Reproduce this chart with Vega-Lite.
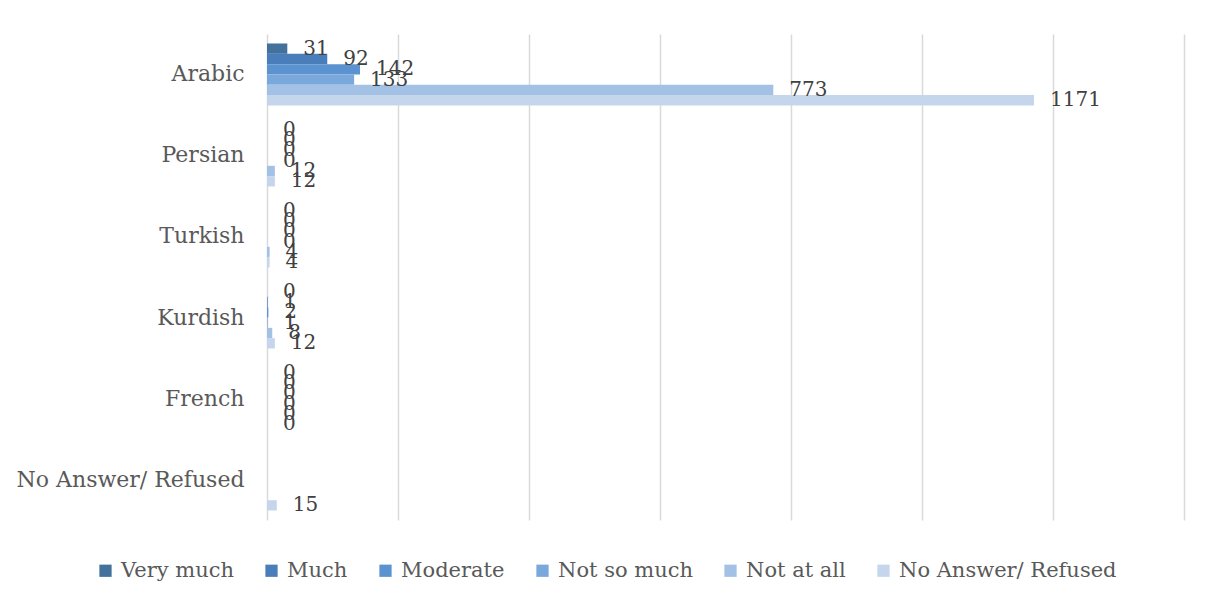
{
  "$schema": "https://vega.github.io/schema/vega-lite/v6.json",
  "width": 917,
  "height": 486,
  "autosize": {"type": "none"},
  "padding": {"left": 267, "top": 34, "right": 28, "bottom": 88},
  "background": "white",
  "config": {"view": {"stroke": null}, "font": "DejaVu Serif"},
  "data": {
    "values": [
      {"lang": "Arabic", "resp": "Very much", "value": 31},
      {"lang": "Arabic", "resp": "Much", "value": 92},
      {"lang": "Arabic", "resp": "Moderate", "value": 142},
      {"lang": "Arabic", "resp": "Not so much", "value": 133},
      {"lang": "Arabic", "resp": "Not at all", "value": 773},
      {"lang": "Arabic", "resp": "No Answer/ Refused", "value": 1171},
      {"lang": "Persian", "resp": "Very much", "value": 0},
      {"lang": "Persian", "resp": "Much", "value": 0},
      {"lang": "Persian", "resp": "Moderate", "value": 0},
      {"lang": "Persian", "resp": "Not so much", "value": 0},
      {"lang": "Persian", "resp": "Not at all", "value": 12},
      {"lang": "Persian", "resp": "No Answer/ Refused", "value": 12},
      {"lang": "Turkish", "resp": "Very much", "value": 0},
      {"lang": "Turkish", "resp": "Much", "value": 0},
      {"lang": "Turkish", "resp": "Moderate", "value": 0},
      {"lang": "Turkish", "resp": "Not so much", "value": 0},
      {"lang": "Turkish", "resp": "Not at all", "value": 4},
      {"lang": "Turkish", "resp": "No Answer/ Refused", "value": 4},
      {"lang": "Kurdish", "resp": "Very much", "value": 0},
      {"lang": "Kurdish", "resp": "Much", "value": 1},
      {"lang": "Kurdish", "resp": "Moderate", "value": 2},
      {"lang": "Kurdish", "resp": "Not so much", "value": 1},
      {"lang": "Kurdish", "resp": "Not at all", "value": 8},
      {"lang": "Kurdish", "resp": "No Answer/ Refused", "value": 12},
      {"lang": "French", "resp": "Very much", "value": 0},
      {"lang": "French", "resp": "Much", "value": 0},
      {"lang": "French", "resp": "Moderate", "value": 0},
      {"lang": "French", "resp": "Not so much", "value": 0},
      {"lang": "French", "resp": "Not at all", "value": 0},
      {"lang": "French", "resp": "No Answer/ Refused", "value": 0},
      {"lang": "No Answer/ Refused", "resp": "Very much", "value": null},
      {"lang": "No Answer/ Refused", "resp": "Much", "value": null},
      {"lang": "No Answer/ Refused", "resp": "Moderate", "value": null},
      {"lang": "No Answer/ Refused", "resp": "Not so much", "value": null},
      {"lang": "No Answer/ Refused", "resp": "Not at all", "value": null},
      {"lang": "No Answer/ Refused", "resp": "No Answer/ Refused", "value": 15}
    ]
  },
  "encoding": {
    "y": {
      "field": "lang",
      "type": "nominal",
      "sort": ["Arabic", "Persian", "Turkish", "Kurdish", "French", "No Answer/ Refused"],
      "scale": {"paddingInner": 0.235, "paddingOuter": 0.117},
      "axis": {
        "title": null,
        "ticks": false,
        "domain": false,
        "labelFontSize": 22,
        "labelColor": "#595959",
        "labelPadding": 23,
        "labelLimit": 0,
        "labelFont": "DejaVu Serif"
      }
    },
    "yOffset": {
      "field": "resp",
      "type": "nominal",
      "sort": ["Very much", "Much", "Moderate", "Not so much", "Not at all", "No Answer/ Refused"]
    },
    "x": {
      "field": "value",
      "type": "quantitative",
      "scale": {"domain": [0, 1400], "nice": false},
      "axis": {
        "title": null,
        "labels": false,
        "ticks": false,
        "domain": false,
        "values": [0, 200, 400, 600, 800, 1000, 1200, 1400],
        "grid": true,
        "gridColor": "#d9d9d9",
        "gridWidth": 1.5
      }
    }
  },
  "layer": [
    {
      "mark": {"type": "bar"},
      "encoding": {
        "color": {
          "field": "resp",
          "type": "nominal",
          "scale": {
            "domain": ["Very much", "Much", "Moderate", "Not so much", "Not at all", "No Answer/ Refused"],
            "range": ["#42719c", "#4a7ebb", "#5a93d0", "#7aa7dc", "#a3c1e5", "#c5d6ec"]
          },
          "legend": {
            "orient": "none",
            "legendX": -172,
            "legendY": 526,
            "direction": "horizontal",
            "title": null,
            "labelFontSize": 21,
            "labelColor": "#595959",
            "labelFont": "DejaVu Serif",
            "labelLimit": 0,
            "symbolType": "square",
            "symbolSize": 150,
            "symbolStrokeWidth": 0,
            "columnPadding": 27,
            "labelOffset": 5
          }
        }
      }
    },
    {
      "transform": [{"filter": "isValid(datum.value)"}],
      "mark": {"type": "text", "align": "left", "baseline": "middle", "dx": 16, "fontSize": 20, "color": "#404040", "font": "DejaVu Serif"},
      "encoding": {"text": {"field": "value", "type": "quantitative"}}
    }
  ]
}
